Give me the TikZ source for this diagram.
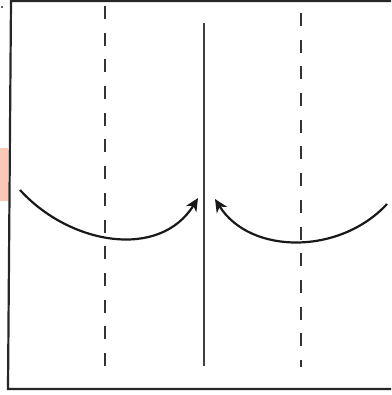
\documentclass[tikz,border=0pt]{standalone}
\usetikzlibrary{arrows.meta}
\definecolor{pinkish}{RGB}{250,200,180}
\tikzset{
  frameline/.style={line width=2.2pt, draw=black!85},
  dashline/.style={line width=2pt, draw=black!80, dash pattern=on 13pt off 13.7pt},
  midline/.style={line width=1.2pt, draw=black!75},
  swing/.style={line width=2.2pt, draw=black!90, -{Stealth[length=13pt,width=12pt,inset=4pt]}}
}
\begin{document}
\begin{tikzpicture}[x=1pt,y=-1pt]
\useasboundingbox (0,0) rectangle (391,395);
\fill[pinkish] (0,148) rectangle (8,201);
\fill[black!60] (1,6) rectangle (3,8);
% frame
\draw[frameline] (391,1) -- (11,1) -- (8,389) -- (391,389);
% dashed verticals
\draw[dashline] (105,6) -- (105,367);
\draw[dashline] (301,13) -- (301,367);
% centre line
\draw[midline] (204,23) -- (204,366);
% arcs
\coordinate (la) at (20,190);
\coordinate (lb) at (198,198);
\coordinate (ra) at (387,204);
\coordinate (rb) at (215,199);
\draw[swing] (la) .. controls (70,245) and (160,260) .. (lb);
\draw[swing] (ra) .. controls (340,255) and (250,255) .. (rb);
\end{tikzpicture}
\end{document}
